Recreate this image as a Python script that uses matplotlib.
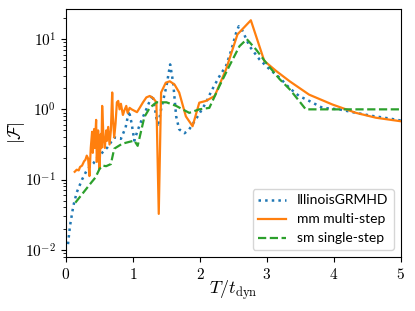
import numpy as np
import matplotlib
matplotlib.use("Agg")
import matplotlib.pyplot as plt
from matplotlib.ticker import FuncFormatter, LogLocator, NullFormatter, FixedLocator

plt.rcParams['mathtext.fontset'] = 'cm'

# IllinoisGRMHD
blue_x = [0.03, 0.06, 0.11, 0.16, 0.24, 0.32, 0.41, 0.47, 0.56, 0.62, 0.72, 0.82, 0.89, 0.94,
          0.98, 1.02, 1.07, 1.13, 1.19, 1.29, 1.33, 1.37, 1.42, 1.50, 1.555, 1.60, 1.645, 1.69,
          1.77, 1.84, 1.97, 2.09, 2.17, 2.29, 2.39, 2.47, 2.54, 2.58, 2.64, 2.74, 2.89, 3.04,
          3.19, 3.34, 3.48, 3.63, 3.83, 4.08, 4.33, 4.58, 4.83, 5.0]
blue_y = [0.0120, 0.0219, 0.0422, 0.0653, 0.100, 0.141, 0.170, 0.209, 0.251, 0.288, 0.398, 0.380,
          0.550, 0.955, 0.631, 0.359, 0.501, 0.708, 0.955, 1.62, 1.0, 0.562, 1.0, 2.14, 4.37, 2.40,
          0.794, 0.519, 0.457, 0.519, 0.804, 1.245, 1.82, 2.95, 4.17, 7.08, 12.3, 15.3, 12.9, 7.94,
          5.13, 3.72, 2.82, 2.00, 1.55, 1.32, 1.05, 1.0, 0.891, 0.804, 0.741, 0.692]

# mm multi-step
orange_x = [0.13, 0.16, 0.19, 0.21, 0.24, 0.27, 0.29, 0.31, 0.33, 0.35, 0.37, 0.39, 0.40, 0.42,
            0.43, 0.45, 0.46, 0.48, 0.49, 0.50, 0.52, 0.53, 0.54, 0.56, 0.58, 0.60, 0.61, 0.63,
            0.65, 0.67, 0.69, 0.70, 0.72, 0.74, 0.76, 0.78, 0.80, 0.82, 0.85, 0.87, 0.90, 0.92,
            0.95, 0.98, 1.02, 1.06, 1.10, 1.15, 1.20, 1.25, 1.30, 1.35, 1.385, 1.42, 1.49, 1.55,
            1.62, 1.69, 1.79, 1.89, 1.99, 2.09, 2.22, 2.39, 2.56, 2.76, 2.96, 3.14, 3.34, 3.63,
            3.98, 4.33, 4.63, 5.0]
orange_y = [0.129, 0.138, 0.135, 0.151, 0.158, 0.182, 0.191, 0.219, 0.200, 0.112, 0.282, 0.479,
            0.240, 0.525, 0.282, 0.708, 0.178, 0.501, 0.251, 0.141, 0.447, 0.282, 1.12, 0.398,
            0.282, 0.501, 0.355, 0.562, 0.316, 0.501, 1.74, 0.794, 0.398, 0.631, 1.26, 1.32, 1.0,
            1.20, 0.832, 0.955, 1.12, 0.891, 1.05, 1.0, 0.955, 0.912, 1.05, 1.26, 1.48, 1.55, 1.45,
            1.26, 0.0324, 1.74, 2.40, 2.51, 2.26, 1.74, 0.794, 0.575, 1.245, 1.32, 1.55, 3.72,
            11.7, 18.6, 4.90, 3.51, 2.51, 1.62, 1.17, 0.891, 0.759, 0.676]

# sm single-step
green_x = [0.14, 0.26, 0.38, 0.44, 0.50, 0.545, 0.60, 0.67, 0.72, 0.84, 1.02, 1.07, 1.17, 1.25,
           1.35, 1.50, 1.645, 1.84, 1.99, 2.14, 2.29, 2.44, 2.59, 2.70, 2.84, 2.99, 3.19, 3.34,
           3.48, 3.58, 4.0, 4.5, 5.0]
green_y = [0.0468, 0.0653, 0.0912, 0.107, 0.141, 0.158, 0.155, 0.166, 0.275, 0.324, 0.359, 0.302,
           0.776, 1.05, 1.26, 1.26, 1.12, 0.891, 1.0, 1.05, 2.14, 4.17, 7.94, 10.0, 7.08, 4.57,
           2.69, 1.93, 1.32, 1.0, 1.0, 1.0, 1.0]

labels = ["IllinoisGRMHD", "mm multi-step", "sm single-step"]
x_ticks = [0, 1, 2, 3, 4, 5]

fig = plt.figure(figsize=(4.15, 3.11), dpi=100)
ax = fig.add_axes([0.159, 0.174, 0.807, 0.797])

ax.plot(blue_x, blue_y, ':', color='tab:blue', lw=1.8, label=labels[0])
ax.plot(orange_x, orange_y, '-', color='tab:orange', lw=1.6, label=labels[1])
ax.plot(green_x, green_y, '--', color='tab:green', lw=1.6, label=labels[2])

ax.set_yscale('log')
ax.set_xlim(0, 5)
ax.set_ylim(0.0079, 26.9)

ax.xaxis.set_major_locator(FixedLocator(x_ticks))
ax.xaxis.set_major_formatter(FuncFormatter(lambda v, p: r'$%d$' % int(round(v))))
ax.yaxis.set_major_locator(LogLocator(base=10))
ax.yaxis.set_major_formatter(FuncFormatter(lambda v, p: r'$10^{%d}$' % int(round(np.log10(v)))))
ax.yaxis.set_minor_formatter(NullFormatter())
ax.tick_params(labelsize=11)

ax.set_xlabel(r'$T/t_{\rm dyn}$', fontsize=13)
ax.set_ylabel(r'$|\mathcal{F}|$', fontsize=13)
ax.xaxis.set_label_coords(0.5, -0.085)
ax.yaxis.set_label_coords(-0.116, 0.5)

ax.legend(loc='lower right', prop={'family': 'Lato', 'size': 10})

fig.savefig('out.png', dpi=100)
